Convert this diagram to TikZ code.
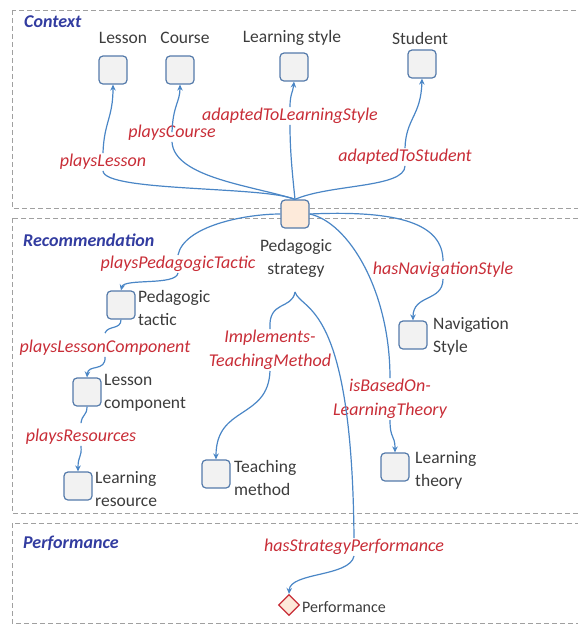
\documentclass[tikz,border=0pt]{standalone}
\usepackage{fontspec}
\setmainfont{Carlito}
\usetikzlibrary{arrows.meta,shapes.geometric}
\definecolor{cblue}{RGB}{74,134,198}
\definecolor{boxb}{RGB}{84,122,170}
\definecolor{boxf}{RGB}{242,242,242}
\definecolor{psf}{RGB}{253,234,218}
\definecolor{relred}{RGB}{200,45,55}
\definecolor{secblue}{RGB}{50,60,160}
\definecolor{txt}{RGB}{60,60,60}
\definecolor{regc}{RGB}{160,160,160}
\begin{document}
\begin{tikzpicture}[x=1pt,y=-1pt,
  conn/.style={draw=cblue, line width=1.2pt},
  arr/.style={conn, -{Stealth[length=6pt,width=5.5pt]}},
  box/.style={draw=boxb, fill=boxf, rounded corners=4pt, minimum size=28pt, line width=1.2pt, inner sep=0pt},
  rel/.style={text=relred, font=\fontsize{18}{24}\selectfont\itshape, inner sep=1pt, align=center},
  lab/.style={text=txt, font=\fontsize{17.5}{23}\selectfont, inner sep=0pt, align=left},
  sect/.style={text=secblue, font=\fontsize{18}{20}\selectfont\bfseries\itshape, anchor=west, inner sep=0pt},
  region/.style={draw=regc, dash pattern=on 5pt off 3pt, line width=1pt}]
\useasboundingbox (0,0) rectangle (578,625);
\clip (0,0) rectangle (578,625);
% regions
\draw[region] (12,10) rectangle (600,208);
\draw[region] (12,218) rectangle (600,513);
\draw[region] (12,523) rectangle (600,623);
\node[sect] (sC) at (24,22) {Context};
\node[sect] (sR) at (23,240) {Recommendation};
\node[sect] (sP) at (23,543) {Performance};
% context nodes
\node[box] (lesson) at (113,70) {};
\node[box] (course) at (180,70) {};
\node[box] (lstyle) at (294,67) {};
\node[box] (student) at (422,64) {};
\node[lab] (tLesson) at (123,38) {Lesson};
\node[lab] (tCourse) at (185,38) {Course};
\node[lab] (tLstyle) at (292,38) {Learning style};
\node[lab] (tStudent) at (420,38) {Student};
% central node
\node[box, fill=psf] (ps) at (295,214) {};
\node[lab, align=center] (tPs) at (296,258) {Pedagogic\\strategy};
% recommendation nodes
\node[box] (tactic) at (121,305) {};
\node[lab, anchor=west] (tTactic) at (138,308) {Pedagogic\\tactic};
\node[box] (comp) at (87,392) {};
\node[lab, anchor=west] (tComp) at (104,393) {Lesson\\component};
\node[box] (res) at (78,486) {};
\node[lab, anchor=west] (tRes) at (95,489) {Learning\\resource};
\node[box] (teach) at (216,474) {};
\node[lab, anchor=west] (tTeach) at (234,478) {Teaching\\method};
\node[box] (theory) at (395,467) {};
\node[lab, anchor=west] (tTheory) at (415,470) {Learning\\theory};
\node[box] (nav) at (413,335) {};
\node[lab, anchor=west] (tNav) at (433,336) {Navigation\\Style};
% performance node
\node[diamond, draw=relred, fill=psf, line width=1.2pt, minimum size=21pt, inner sep=0pt] (perf) at (289,605) {};
\node[lab, anchor=west, font=\fontsize{16}{18}\selectfont] (tPerf) at (302,607) {Performance};
% relation labels
\node[rel] (rPL) at (103,162) {playsLesson};
\node[rel] (rPC) at (172,133) {playsCourse};
\node[rel] (rALS) at (290,116) {adaptedToLearningStyle};
\node[rel] (rAS) at (405,157) {adaptedToStudent};
\node[rel] (rPPT) at (178,264) {playsPedagogicTactic};
\node[rel] (rHNS) at (443,270) {hasNavigationStyle};
\node[rel] (rIT) at (270,350) {Implements-\\TeachingMethod};
\node[rel] (rPLC) at (105,348) {playsLessonComponent};
\node[rel] (rIB) at (390,399) {isBasedOn-\\LearningTheory};
\node[rel] (rPR) at (81,437) {playsResources};
\node[rel] (rHSP) at (354,547) {hasStrategyPerformance};
\coordinate (fork) at (295,292);
% context connectors
\draw[conn] (ps.north) .. controls (265,186) and (104,192) .. (rPL.south);
\draw[arr] (rPL.north) .. controls (104,122) and (113,118) .. (lesson.south);
\draw[conn] (ps.north) .. controls (255,186) and (174,178) .. (rPC.south);
\draw[arr] ([yshift=-8pt]rPC.north) .. controls (173,105) and (180,102) .. (course.south);
\draw[conn] (ps.north) .. controls (292,170) and (290,150) .. (rALS.south);
\draw[arr] (rALS.north) .. controls (290,94) and (293,92) .. (lstyle.south);
\draw[conn] (ps.north) .. controls (330,184) and (405,188) .. (rAS.south);
\draw[arr] (rAS.north) .. controls (406,118) and (421,116) .. (student.south);
% recommendation connectors
\draw[conn] (ps.west) .. controls (245,214) and (184,226) .. (rPPT.north);
\draw[arr] (rPPT.south) .. controls (176,286) and (124,278) .. (tactic.north);
\draw[conn] (ps.east) .. controls (400,210) and (443,224) .. (rHNS.north);
\draw[arr] (rHNS.south) .. controls (443,302) and (413,294) .. (nav.north);
\draw[conn] (ps.east) .. controls (348,222) and (390,290) .. (rIB.north);
\draw[arr] (rIB.south) .. controls (390,440) and (395,434) .. (theory.north);
\draw[conn] (fork) .. controls (292,310) and (268,300) .. (rIT.north);
\draw[conn] (fork) .. controls (302,312) and (352,300) .. (rHSP.north);
\draw[arr] (rIT.south) .. controls (268,420) and (216,405) .. (teach.north);
\draw[conn] (tactic.south) .. controls (121,330) and (108,325) .. ([yshift=6pt]rPLC.north);
\draw[arr] (rPLC.south) .. controls (106,372) and (88,364) .. (comp.north);
\draw[conn] (comp.south) .. controls (87,416) and (82,414) .. ([yshift=5pt]rPR.north);
\draw[arr] (rPR.south) .. controls (82,458) and (78,455) .. (res.north);
% performance connector
\draw[arr] (rHSP.south) .. controls (350,577) and (290,572) .. (perf.north);
\end{tikzpicture}
\end{document}
